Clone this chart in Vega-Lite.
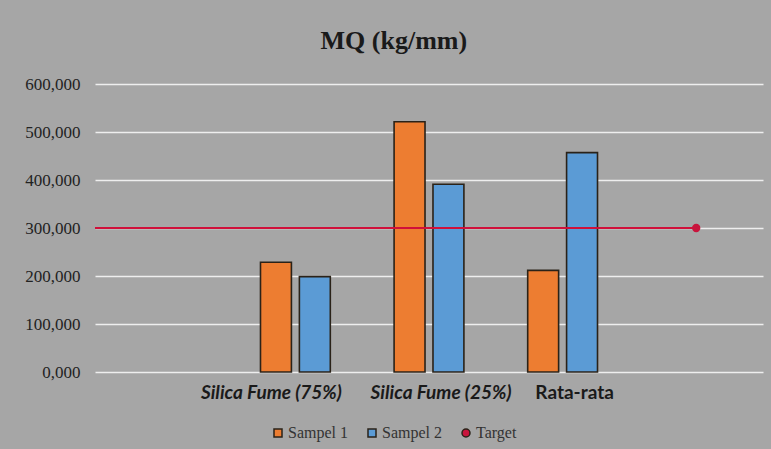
{
  "$schema": "https://vega.github.io/schema/vega-lite/v6.json",
  "width": 668,
  "height": 288,
  "autosize": {"type": "none"},
  "padding": {"left": 95, "top": 84, "right": 8, "bottom": 77},
  "background": "#a6a6a6",
  "title": {
    "text": "MQ (kg/mm)",
    "font": "Liberation Serif",
    "fontSize": 26,
    "fontWeight": "bold",
    "color": "#1a1a1a",
    "anchor": "middle",
    "frame": "bounds",
    "offset": 21
  },
  "datasets": {
    "sampel": [
      {"kategori": "Silica Fume (75%)", "seri": "Sampel 1", "mq": 228.5},
      {"kategori": "Silica Fume (75%)", "seri": "Sampel 2", "mq": 198.6},
      {"kategori": "Silica Fume (25%)", "seri": "Sampel 1", "mq": 521.5},
      {"kategori": "Silica Fume (25%)", "seri": "Sampel 2", "mq": 391.0},
      {"kategori": "Rata-rata", "seri": "Sampel 1", "mq": 211.8},
      {"kategori": "Rata-rata", "seri": "Sampel 2", "mq": 457.0}
    ],
    "target": [
      {"seri": "Target", "awal": 0, "akhir": 4.5, "mq": 300}
    ]
  },
  "config": {
    "view": {"stroke": null},
    "axisY": {
      "domain": false,
      "ticks": false,
      "grid": true,
      "gridColor": "#eeeeee",
      "gridWidth": 1.6,
      "labelFont": "Liberation Serif",
      "labelFontSize": 17,
      "labelColor": "#222222",
      "labelPadding": 15
    },
    "legend": {
      "title": null,
      "orient": "none",
      "legendX": 175,
      "legendY": 341,
      "direction": "horizontal",
      "labelFont": "Liberation Serif",
      "labelFontSize": 16,
      "labelColor": "#333333",
      "symbolSize": 64,
      "columnPadding": 16,
      "labelOffset": 2,
      "symbolStrokeWidth": 1.5
    }
  },
  "resolve": {"scale": {"x": "independent"}},
  "layer": [
    {
      "data": {"name": "sampel"},
      "mark": {"type": "bar", "stroke": "#2a2218", "strokeWidth": 1.6},
      "encoding": {
        "x": {
          "field": "kategori",
          "type": "nominal",
          "scale": {
            "domain": [" ", "Silica Fume (75%)", "Silica Fume (25%)", "Rata-rata", "  "],
            "paddingInner": 0,
            "paddingOuter": 0
          },
          "axis": {
            "title": null,
            "domain": false,
            "ticks": false,
            "labelAngle": 0,
            "labelOverlap": false,
            "labelBound": false,
            "labelFont": "Lato",
            "labelFontSize": 19,
            "labelFontWeight": "bold",
            "labelFontStyle": {"condition": {"test": "datum.value === 'Rata-rata'", "value": "normal"}, "value": "italic"},
            "labelOffset": {"condition": {"test": "datum.value === 'Silica Fume (75%)'", "value": -24}, "value": 12},
            "labelColor": "#1a1a1a",
            "labelPadding": 11
          }
        },
        "xOffset": {
          "field": "seri",
          "type": "nominal",
          "scale": {"paddingInner": 0.205, "paddingOuter": 0.82}
        },
        "y": {
          "field": "mq",
          "type": "quantitative",
          "scale": {"domain": [0, 600]},
          "axis": {
            "title": null,
            "values": [0, 100, 200, 300, 400, 500, 600],
            "labelExpr": "replace(format(datum.value, '.3f'), '.', ',')"
          }
        },
        "color": {
          "field": "seri",
          "type": "nominal",
          "scale": {
            "domain": ["Sampel 1", "Sampel 2", "Target"],
            "range": ["#ED7D31", "#5B9BD5", "#C8143C"]
          },
          "legend": {
            "encode": {
              "symbols": {
                "update": {
                  "stroke": {"signal": "datum.value === 'Target' ? '#C8143C' : (datum.value === 'Sampel 1' ? '#4a2a10' : '#1c2c44')"}
                }
              }
            }
          }
        }
      }
    },
    {
      "data": {"name": "target"},
      "layer": [
        {
          "mark": {"type": "rule", "color": "#D0103A", "strokeWidth": 2},
          "encoding": {
            "x": {"field": "awal", "type": "quantitative", "scale": {"domain": [0, 5]}, "axis": null},
            "x2": {"field": "akhir"},
            "y": {"field": "mq", "type": "quantitative"}
          }
        },
        {
          "mark": {"type": "point", "filled": true, "size": 70, "opacity": 1},
          "encoding": {
            "x": {"field": "akhir", "type": "quantitative", "scale": {"domain": [0, 5]}, "axis": null},
            "y": {"field": "mq", "type": "quantitative"},
            "color": {"field": "seri", "type": "nominal"},
            "shape": {
              "field": "seri",
              "type": "nominal",
              "scale": {
                "domain": ["Sampel 1", "Sampel 2", "Target"],
                "range": ["square", "square", "circle"]
              }
            }
          }
        }
      ]
    }
  ]
}
